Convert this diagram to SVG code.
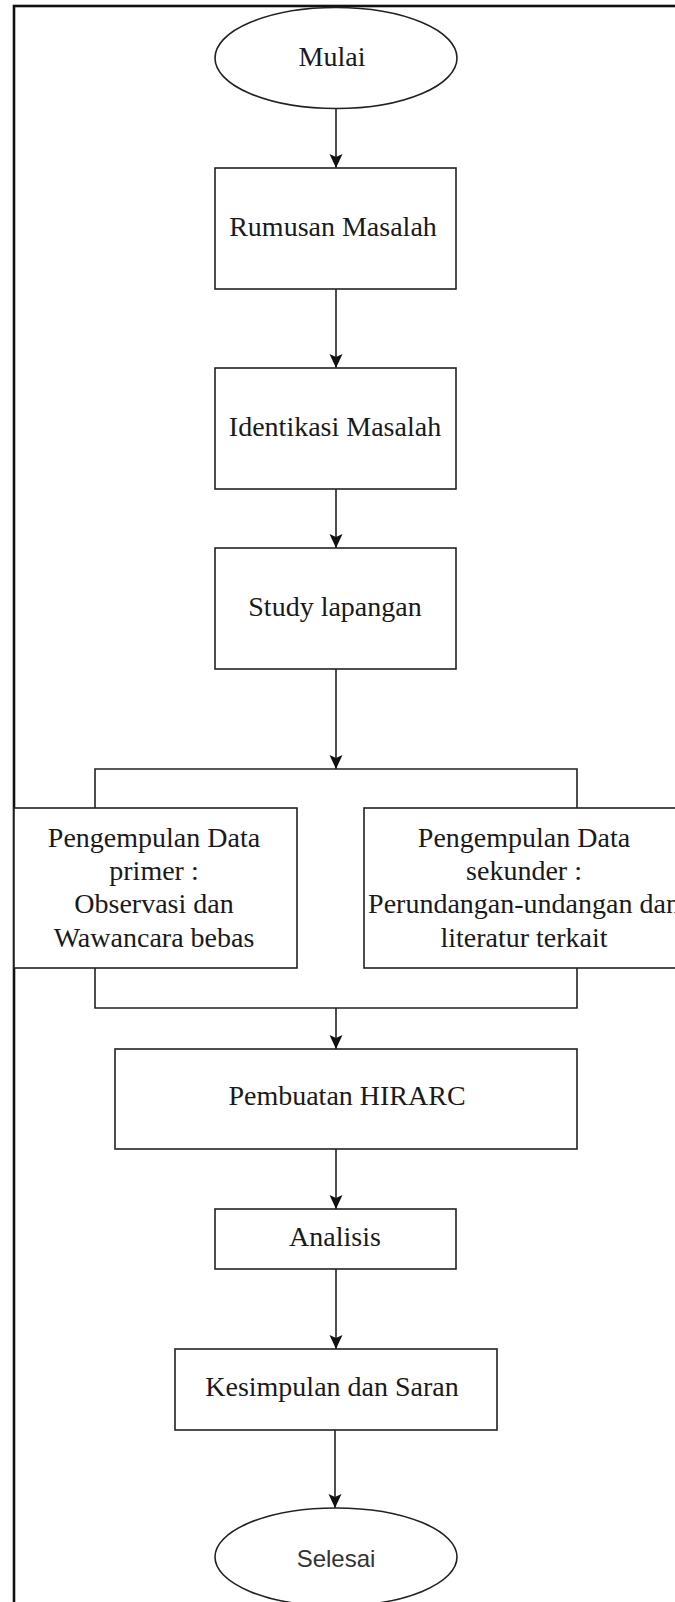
<svg xmlns="http://www.w3.org/2000/svg" width="675" height="1602" viewBox="0 0 675 1602">
<style>
.frame{fill:none;stroke:#111;stroke-width:2.6}
.box{fill:#fff;stroke:#222;stroke-width:1.6}
.ln{fill:none;stroke:#222;stroke-width:1.6}
.t{font-family:"Liberation Serif","Times New Roman",serif;font-size:28px;fill:#1a1a1a;text-anchor:middle}
.s{font-family:"Liberation Sans",Arial,sans-serif;font-size:24px;fill:#333;text-anchor:middle}
</style>
<defs>
<marker id="ah" viewBox="0 0 14 14" refX="14" refY="7" markerWidth="14" markerHeight="14" markerUnits="userSpaceOnUse" orient="auto">
<path d="M0,0.5 L14,7 L0,13.5 L3,7 Z" fill="#111"/>
</marker>
</defs>
<rect class="frame" x="14" y="6" width="700" height="1700"/>
<g id="connectors">
<line class="ln" x1="336" y1="108" x2="336" y2="168" marker-end="url(#ah)"/>
<line class="ln" x1="336" y1="289" x2="336" y2="368" marker-end="url(#ah)"/>
<line class="ln" x1="336" y1="489" x2="336" y2="548" marker-end="url(#ah)"/>
<line class="ln" x1="336" y1="669" x2="336" y2="769" marker-end="url(#ah)"/>
<path class="ln" d="M95,808 V769 H577 V808"/>
<path class="ln" d="M95,968 V1008 H577 V968"/>
<line class="ln" x1="336" y1="1008" x2="336" y2="1049" marker-end="url(#ah)"/>
<line class="ln" x1="336" y1="1149" x2="336" y2="1209" marker-end="url(#ah)"/>
<line class="ln" x1="336" y1="1269" x2="336" y2="1349" marker-end="url(#ah)"/>
<line class="ln" x1="335" y1="1430" x2="335" y2="1508" marker-end="url(#ah)"/>
</g>
<g id="mulai">
<ellipse class="box" cx="336" cy="58" rx="121" ry="50.5"/>
<text class="t" x="332" y="66">Mulai</text>
</g>
<g id="rumusan">
<rect class="box" x="215" y="168" width="241" height="121"/>
<text class="t" x="333" y="236">Rumusan Masalah</text>
</g>
<g id="identikasi">
<rect class="box" x="215" y="368" width="241" height="121"/>
<text class="t" x="335" y="436">Identikasi Masalah</text>
</g>
<g id="study">
<rect class="box" x="215" y="548" width="241" height="121"/>
<text class="t" x="335" y="616">Study lapangan</text>
</g>
<g id="primer">
<rect class="box" x="14" y="808" width="283" height="160"/>
<text class="t" x="154" y="847">Pengempulan Data</text>
<text class="t" x="154" y="880">primer :</text>
<text class="t" x="154" y="913">Observasi dan</text>
<text class="t" x="154" y="947">Wawancara bebas</text>
</g>
<g id="sekunder">
<rect class="box" x="364" y="808" width="320" height="160"/>
<text class="t" x="524" y="847">Pengempulan Data</text>
<text class="t" x="524" y="880">sekunder :</text>
<text class="t" x="524" y="913">Perundangan-undangan dan</text>
<text class="t" x="524" y="947">literatur terkait</text>
</g>
<g id="hirarc">
<rect class="box" x="115" y="1049" width="462" height="100"/>
<text class="t" x="347" y="1105">Pembuatan HIRARC</text>
</g>
<g id="analisis">
<rect class="box" x="215" y="1209" width="241" height="60"/>
<text class="t" x="335" y="1246">Analisis</text>
</g>
<g id="kesimpulan">
<rect class="box" x="175" y="1349" width="322" height="81"/>
<text class="t" x="332" y="1396">Kesimpulan dan Saran</text>
</g>
<g id="selesai">
<ellipse class="box" cx="336" cy="1557" rx="121" ry="49"/>
<text class="s" x="336" y="1567">Selesai</text>
</g>
</svg>
